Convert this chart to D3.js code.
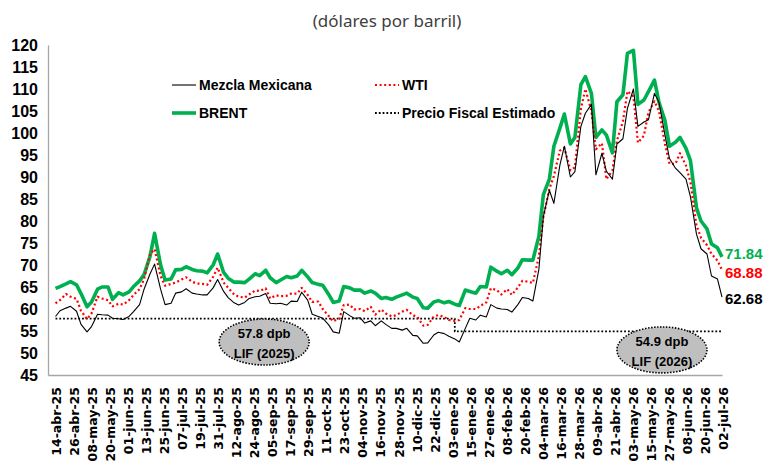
<!DOCTYPE html>
<head>
<meta charset="utf-8">
<style>
body { margin: 0; background: #fff; }
svg { display: block; }
.ylab text { font: bold 16px "Liberation Sans", Arial, sans-serif; fill: #000; }
.xlab text { font: bold 12.5px "DejaVu Sans", sans-serif; fill: #000; }
.legend text { font: bold 14px "Liberation Sans", Arial, sans-serif; fill: #000; }
.title { font: 17px "Noto Sans", sans-serif; fill: #404040; }
.callout text { font: bold 13px "Liberation Sans", Arial, sans-serif; fill: #000; }
.last { font: bold 15px "Liberation Sans", Arial, sans-serif; }
</style>
</head>
<body>
<svg width="763" height="471"></svg>
<script src="https://cdn.jsdelivr.net/npm/d3@7"></script>
<script>

// fechas de muestra (lunes y jueves)
var dates = [
  "2025-04-14","2025-04-17","2025-04-21","2025-04-24","2025-04-28","2025-05-01","2025-05-05","2025-05-08",
  "2025-05-12","2025-05-15","2025-05-19","2025-05-22","2025-05-26","2025-05-29","2025-06-02","2025-06-05",
  "2025-06-09","2025-06-12","2025-06-16","2025-06-19","2025-06-23","2025-06-26","2025-06-30","2025-07-03",
  "2025-07-07","2025-07-10","2025-07-14","2025-07-17","2025-07-21","2025-07-24","2025-07-28","2025-07-31",
  "2025-08-04","2025-08-07","2025-08-11","2025-08-14","2025-08-18","2025-08-21","2025-08-25","2025-08-28",
  "2025-09-01","2025-09-04","2025-09-08","2025-09-11","2025-09-15","2025-09-18","2025-09-22","2025-09-25",
  "2025-09-29","2025-10-02","2025-10-06","2025-10-09","2025-10-13","2025-10-16","2025-10-20","2025-10-23",
  "2025-10-27","2025-10-30","2025-11-03","2025-11-06","2025-11-10","2025-11-13","2025-11-17","2025-11-20",
  "2025-11-24","2025-11-27","2025-12-01","2025-12-04","2025-12-08","2025-12-11","2025-12-15","2025-12-18",
  "2025-12-22","2025-12-25","2025-12-29","2026-01-01","2026-01-05","2026-01-08","2026-01-12","2026-01-15",
  "2026-01-19","2026-01-22","2026-01-26","2026-01-29","2026-02-02","2026-02-05","2026-02-09","2026-02-12",
  "2026-02-16","2026-02-19","2026-02-23","2026-02-26","2026-03-02","2026-03-05","2026-03-09","2026-03-12",
  "2026-03-16","2026-03-19","2026-03-23","2026-03-26","2026-03-30","2026-04-02","2026-04-06","2026-04-09",
  "2026-04-13","2026-04-16","2026-04-20","2026-04-23","2026-04-27","2026-04-30","2026-05-04","2026-05-07",
  "2026-05-11","2026-05-14","2026-05-18","2026-05-21","2026-05-25","2026-05-28","2026-06-01","2026-06-04",
  "2026-06-08","2026-06-11","2026-06-15","2026-06-18","2026-06-22","2026-06-25","2026-06-29","2026-07-02"
];

var brent = [
  64.7, 65.1, 65.7, 66.2, 65.5, 63.5, 60.5, 61.6,
  64.5, 65.0, 65.0, 62.2, 63.7, 63.2, 63.9, 65.1,
  66.4, 67.8, 72.0, 77.2, 70.0, 66.6, 66.8, 68.9,
  69.0, 69.6, 69.0, 68.7, 68.6, 68.2, 70.0, 72.5,
  68.3, 67.0, 66.1, 66.1, 66.0, 66.8, 68.0, 67.6,
  68.8, 67.1, 66.0, 66.6, 67.4, 67.1, 67.5, 68.8,
  67.3, 66.0, 65.6, 65.4, 63.3, 61.5, 61.8, 65.1,
  64.8, 64.3, 64.3, 63.6, 64.1, 63.6, 62.4, 62.6,
  62.2, 62.7, 63.2, 63.6, 62.7, 62.4, 60.3, 60.2,
  61.6, 61.9, 61.4, 61.7, 61.1, 60.8, 64.3, 64.0,
  63.6, 65.1, 65.0, 69.5, 68.6, 68.0, 68.8, 67.8,
  69.3, 71.2, 71.1, 71.1, 76.5, 86.0, 89.5, 97.0,
  101.1, 104.3, 97.5, 99.0, 111.0, 112.8, 109.0, 99.0,
  100.7, 99.5, 95.5, 107.1, 108.7, 118.1, 118.8, 106.5,
  107.5, 109.4, 112.0, 107.0, 102.8, 97.0, 97.9, 99.0,
  96.5, 93.7, 83.0, 80.0, 78.2, 74.8, 73.9, 71.84
];

var wti = [
  61.3, 62.0, 63.4, 62.8, 62.3, 59.6, 57.7, 59.0,
  62.8, 62.4, 62.0, 60.6, 61.2, 61.0, 62.0, 63.2,
  64.5, 66.8, 72.5, 73.6, 67.5, 65.3, 65.7, 66.0,
  66.7, 67.2, 66.2, 65.8, 65.7, 65.5, 67.3, 69.4,
  66.0, 64.8, 63.3, 62.8, 62.6, 63.3, 64.2, 64.1,
  64.7, 62.4, 63.1, 62.9, 63.0, 63.5, 63.5, 64.8,
  63.2, 61.6, 61.7, 60.0, 58.4, 57.2, 57.8, 60.9,
  61.0, 59.9, 60.0, 59.5, 60.5, 58.7, 59.9, 59.0,
  58.3, 58.6, 59.4, 59.8, 58.6, 58.2, 56.2, 56.4,
  58.3, 58.6, 58.2, 57.5, 57.3, 57.5, 60.2, 60.0,
  60.0, 60.7, 61.5, 64.7, 64.3, 63.3, 64.5, 63.2,
  64.9, 66.4, 66.2, 65.9, 72.0, 80.9, 87.3, 90.2,
  96.0, 96.6, 91.5, 92.2, 105.5, 110.0, 105.0, 96.3,
  97.7, 89.5, 91.5, 98.3, 102.6, 109.5, 108.3, 97.8,
  99.4, 104.7, 107.2, 105.0, 97.5, 93.0, 93.0, 95.4,
  92.6, 88.8, 79.0, 76.2, 74.5, 72.5, 71.0, 68.88
];

var mezcla = [
  58.3, 59.6, 60.2, 60.6, 59.5, 56.5, 54.8, 56.0,
  58.8, 58.7, 58.6, 57.9, 57.8, 57.6, 58.3, 59.4,
  61.0, 64.5, 68.0, 70.2, 64.5, 61.0, 61.3, 63.6,
  63.9, 64.6, 63.6, 63.4, 63.2, 63.2, 64.8, 66.7,
  64.0, 62.6, 61.4, 60.9, 61.5, 62.4, 62.8, 62.9,
  63.5, 61.3, 61.2, 61.3, 60.9, 61.8, 61.7, 63.8,
  62.0, 58.8, 58.3, 57.9, 56.4, 54.8, 54.5, 59.4,
  58.5, 57.9, 58.0, 56.8, 57.3, 56.2, 57.3, 56.5,
  55.6, 55.6, 55.2, 55.6, 54.0, 53.9, 52.2, 52.3,
  54.1, 54.7, 54.4, 53.8, 53.2, 52.5, 55.6, 57.9,
  57.5, 58.6, 58.2, 61.0, 60.2, 60.0, 59.9, 59.3,
  61.0, 62.6, 62.4, 61.8, 69.0, 81.0, 87.0, 84.0,
  92.7, 97.0, 90.0, 91.2, 101.5, 104.5, 106.5, 90.5,
  95.4, 91.3, 89.5, 97.5, 98.7, 105.6, 110.0, 101.5,
  102.5, 103.0, 109.0, 107.0, 99.5, 94.2, 92.0, 91.0,
  89.5, 85.5, 77.0, 73.7, 72.5, 67.5, 66.8, 62.68
];

// precio fiscal estimado (LIF)
var fiscalDates = ["2025-04-14", "2026-01-05", "2026-07-02"];
var fiscalValues = [57.8, 54.9, 54.9];

var yTicks = [45, 50, 55, 60, 65, 70, 75, 80, 85, 90, 95, 100, 105, 110, 115, 120];

var xTickLabels = [
  "14-abr-25","26-abr-25","08-may-25","20-may-25","01-jun-25","13-jun-25","25-jun-25","07-jul-25",
  "19-jul-25","31-jul-25","12-ago-25","24-ago-25","05-sep-25","17-sep-25","29-sep-25","11-oct-25",
  "23-oct-25","04-nov-25","16-nov-25","28-nov-25","10-dic-25","22-dic-25","03-ene-26","15-ene-26",
  "27-ene-26","08-feb-26","20-feb-26","04-mar-26","16-mar-26","28-mar-26","09-abr-26","21-abr-26",
  "03-may-26","15-may-26","27-may-26","08-jun-26","20-jun-26","02-jul-26"
];

var callouts = [
  {date: "2025-08-31", value: 52.5, lines: ["57.8 dpb", "LIF (2025)"]},
  {date: "2026-05-23", value: 50.7, lines: ["54.9 dpb", "LIF (2026)"]}
];

var svg = d3.select("svg"),
    margin = {top: 45, right: 41, bottom: 96, left: 48},
    width = +svg.attr("width"),
    height = +svg.attr("height");

var parse = d3.timeParse("%Y-%m-%d");
var meses = {ene: 0, feb: 1, mar: 2, abr: 3, may: 4, jun: 5, jul: 6, ago: 7, sep: 8, oct: 9, nov: 10, dic: 11};
function parseLabel(s) {
  var p = s.split("-");
  return new Date(2000 + +p[2], meses[p[1]], +p[0]);
}

var days = dates.map(parse);

var x = d3.scaleTime()
    .domain([d3.timeDay.offset(days[0], -5), days[days.length - 1]])
    .range([margin.left, width - margin.right]);

var y = d3.scaleLinear()
    .domain([45, 120])
    .range([height - margin.bottom, margin.top]);

svg.append("text")
    .attr("class", "title")
    .attr("x", 387)
    .attr("y", 27)
    .attr("text-anchor", "middle")
    .text("(dólares por barril)");

// ejes
var yAxis = svg.append("g")
    .attr("class", "ylab")
    .attr("transform", "translate(" + margin.left + ",0)")
    .call(d3.axisLeft(y).tickValues(yTicks).tickSize(0).tickPadding(10));
yAxis.select(".domain").attr("stroke", "#a6a6a6").attr("stroke-width", 1.3);
yAxis.selectAll("text").attr("dy", "0.36em");

var xAxis = svg.append("g")
    .attr("class", "xlab")
    .attr("transform", "translate(0," + y(45) + ")")
    .call(d3.axisBottom(x)
      .tickValues(xTickLabels.map(parseLabel))
      .tickFormat(function(d, i) { return xTickLabels[i]; })
      .tickSize(0));
xAxis.select(".domain").attr("stroke", "#a6a6a6").attr("stroke-width", 1.3);
xAxis.selectAll("text")
    .attr("transform", "rotate(-90)")
    .attr("text-anchor", "end")
    .attr("x", -12)
    .attr("y", 0)
    .attr("dy", "0.42em");

var styles = {
  brent:  {stroke: "#00b050", width: 3.6, dash: null},
  wti:    {stroke: "#ff0000", width: 2.2, dash: "2,2.6"},
  mezcla: {stroke: "#000000", width: 1.1, dash: null},
  fiscal: {stroke: "#000000", width: 1.8, dash: "1.8,2"}
};

function draw(values, st, ds, curve) {
  var line = d3.line()
      .x(function(d, i) { return x(ds[i]); })
      .y(function(d) { return y(d); })
      .curve(curve || d3.curveLinear);
  svg.append("path")
      .datum(values)
      .attr("fill", "none")
      .attr("stroke", st.stroke)
      .attr("stroke-width", st.width)
      .attr("stroke-linejoin", "round")
      .attr("stroke-dasharray", st.dash)
      .attr("d", line);
}

draw(fiscalValues, styles.fiscal, fiscalDates.map(parse), d3.curveStepAfter);
draw(brent, styles.brent, days);
draw(wti, styles.wti, days);
draw(mezcla, styles.mezcla, days);

// valores finales (con un pequeño desplazamiento vertical para que no se encimen)
var last = days.length - 1;
[[brent, "#00b050", -3], [wti, "#ff0000", 3], [mezcla, "#000", 1]].forEach(function(s) {
  svg.append("text")
      .attr("class", "last")
      .attr("x", x(days[last]) + 3)
      .attr("y", y(s[0][last]) + s[2])
      .attr("dy", "0.36em")
      .attr("fill", s[1])
      .text(d3.format(".2f")(s[0][last]));
});

// leyenda
var legend = svg.append("g").attr("class", "legend");
var items = [
  {name: "Mezcla Mexicana", st: styles.mezcla, lx: 172, ly: 85},
  {name: "WTI", st: styles.wti, lx: 375, ly: 85},
  {name: "BRENT", st: styles.brent, lx: 172, ly: 113},
  {name: "Precio Fiscal Estimado", st: styles.fiscal, lx: 375, ly: 113}
];
items.forEach(function(it) {
  legend.append("line")
      .attr("x1", it.lx).attr("x2", it.lx + 24)
      .attr("y1", it.ly).attr("y2", it.ly)
      .attr("stroke", it.st.stroke)
      .attr("stroke-width", it.st.width)
      .attr("stroke-dasharray", it.st.dash);
  legend.append("text")
      .attr("x", it.lx + 27)
      .attr("y", it.ly)
      .attr("dy", "0.36em")
      .text(it.name);
});

// globos LIF
callouts.forEach(function(c) {
  var g = svg.append("g")
      .attr("class", "callout")
      .attr("transform", "translate(" + x(parse(c.date)) + "," + y(c.value) + ")");
  g.append("ellipse")
      .attr("rx", 45).attr("ry", 23)
      .attr("fill", "#bfbfbf")
      .attr("stroke", "#000")
      .attr("stroke-width", 1.6)
      .attr("stroke-dasharray", "1.5,1.5");
  g.selectAll("text")
    .data(c.lines)
    .enter().append("text")
      .attr("text-anchor", "middle")
      .attr("y", function(d, i) { return i ? 16 : -4; })
      .text(function(d) { return d; });
});

</script>
</body>
